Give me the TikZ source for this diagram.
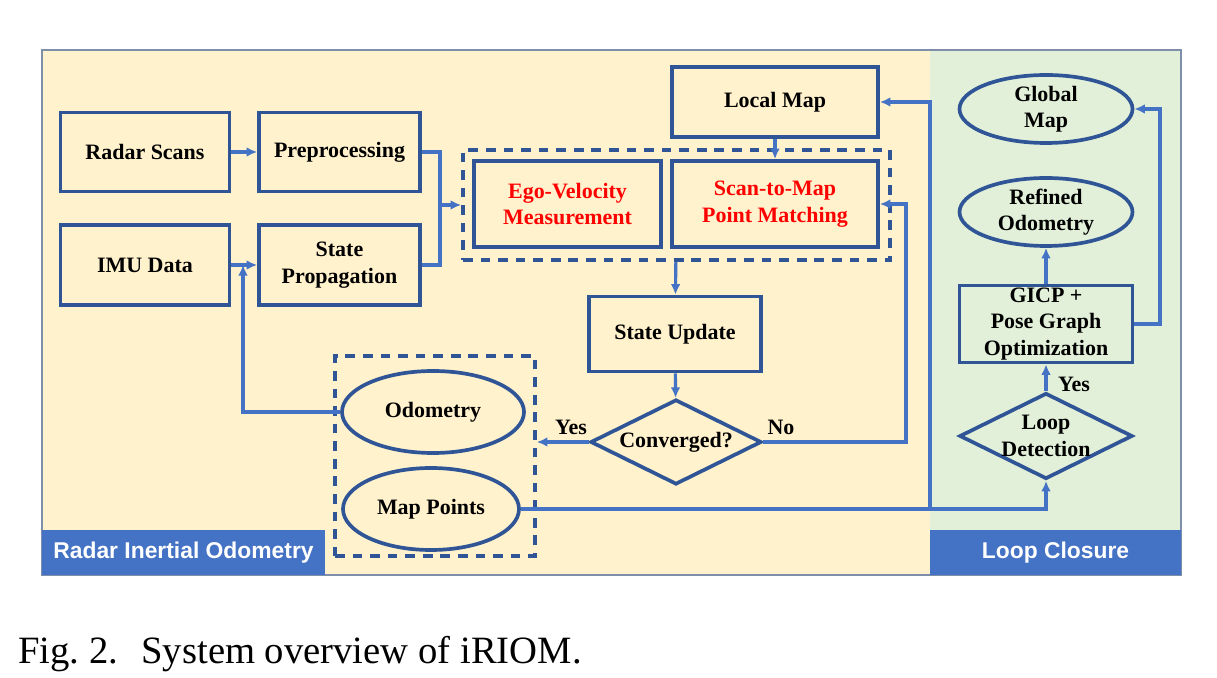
\documentclass[tikz,border=0pt]{standalone}
\usepackage{fontspec}
\setmainfont{Liberation Serif}
\setsansfont{Liberation Sans}
\usepackage{tikz}
\usetikzlibrary{arrows.meta,shapes.geometric,backgrounds}
\pgfdeclarelayer{bglayer}
\pgfdeclarelayer{edgelayer}
\pgfdeclarelayer{nodelayer}
\pgfsetlayers{bglayer,nodelayer,main,edgelayer}

\definecolor{panelcream}{HTML}{FFF2CC}
\definecolor{panelgreen}{HTML}{E2F0D9}
\definecolor{barblue}{HTML}{4472C4}
\definecolor{boxblue}{HTML}{2F5597}
\definecolor{edgeblue}{HTML}{4472C4}
\definecolor{framegray}{HTML}{7F8FA9}

\tikzset{
	block/.style={draw=boxblue, line width=2.1pt, align=center, inner sep=0pt, font=\fontsize{12.5}{15}\selectfont\bfseries},
	oval/.style={block, ellipse},
	decision/.style={block, diamond, aspect=2},
	group/.style={draw=boxblue, line width=2.1pt, dash pattern=on 5.5pt off 4.5pt},
	flow/.style={draw=edgeblue, line width=1.8pt, -{Latex[length=6pt,width=5.5pt]}},
	plain/.style={draw=edgeblue, line width=1.8pt},
	redtext/.style={text=red},
	bar/.style={fill=barblue, text=white, inner sep=0pt, font=\sffamily\bfseries\fontsize{13}{15}\selectfont},
	tag/.style={font=\fontsize{12.5}{15}\selectfont\bfseries},
}

\begin{document}
\begin{tikzpicture}
	\useasboundingbox (0, 0) rectangle (24.34, 13.54);
	\begin{pgfonlayer}{bglayer}
		\fill [panelcream] (0.84, 2.04) rectangle (18.6, 12.54);
		\fill [panelgreen] (18.6, 2.04) rectangle (23.62, 12.54);
		\draw [framegray, line width=0.6pt] (0.84, 2.04) rectangle (23.62, 12.54);
	\end{pgfonlayer}
	\begin{pgfonlayer}{nodelayer}
		\node [block, minimum width=3.38cm, minimum height=1.58cm] (0) at (2.9, 10.5) {Radar Scans};
		\node [block, minimum width=3.22cm, minimum height=1.58cm] (1) at (6.79, 10.5) {Preprocessing};
		\node [block, minimum width=3.38cm, minimum height=1.6cm] (2) at (2.9, 8.24) {IMU Data};
		\node [block, minimum width=3.22cm, minimum height=1.6cm] (3) at (6.79, 8.24) {State\\Propagation};
		\node [group, minimum width=8.54cm, minimum height=2.2cm] (4) at (13.53, 9.44) {};
		\node [block, redtext, minimum width=3.74cm, minimum height=1.72cm] (5) at (11.35, 9.46) {Ego-Velocity\\Measurement};
		\node [block, redtext, minimum width=4.12cm, minimum height=1.72cm] (6) at (15.5, 9.46) {Scan-to-Map\\Point Matching};
		\node [block, minimum width=4.12cm, minimum height=1.4cm] (7) at (15.5, 11.5) {Local Map};
		\node [block, minimum width=3.44cm, minimum height=1.5cm] (8) at (13.5, 6.86) {State Update};
		\node [decision, minimum width=3.42cm, minimum height=1.7cm] (9) at (13.52, 4.7) {Converged?};
		\node [group, minimum width=4cm, minimum height=4cm] (10) at (8.7, 4.42) {};
		\node [oval, minimum width=3.64cm, minimum height=1.64cm] (11) at (8.66, 5.3) {Odometry};
		\node [oval, minimum width=3.52cm, minimum height=1.64cm] (12) at (8.62, 3.36) {Map Points};
		\node [oval, minimum width=3.46cm, minimum height=1.36cm] (13) at (20.92, 11.36) {Global\\Map};
		\node [oval, minimum width=3.46cm, minimum height=1.36cm] (14) at (20.92, 9.3) {Refined\\Odometry};
		\node [block, minimum width=3.46cm, minimum height=1.54cm] (15) at (20.92, 7.06) {GICP +\\Pose Graph\\Optimization};
		\node [decision, minimum width=3.46cm, minimum height=1.72cm] (16) at (20.92, 4.82) {Loop\\Detection};
		\node [tag] (17) at (11.42, 5.0) {Yes};
		\node [tag] (18) at (15.62, 5.0) {No};
		\node [tag] (19) at (21.48, 5.86) {Yes};
		\node [] (20) at (8.8, 10.5) {};
		\node [] (21) at (8.8, 8.24) {};
		\node [] (22) at (8.8, 9.44) {};
		\node [] (23) at (18.12, 4.7) {};
		\node [] (24) at (18.12, 9.46) {};
		\node [] (25) at (4.86, 5.3) {};
		\node [] (26) at (4.86, 8.24) {};
		\node [] (27) at (18.6, 3.36) {};
		\node [] (28) at (20.92, 3.36) {};
		\node [] (29) at (18.6, 11.5) {};
		\node [] (30) at (23.2, 7.06) {};
		\node [] (31) at (23.2, 11.36) {};
		\node [bar, minimum width=5.66cm, minimum height=0.9cm] (32) at (3.67, 2.49) {Radar Inertial Odometry};
		\node [bar, minimum width=5.02cm, minimum height=0.9cm] (33) at (21.11, 2.49) {Loop Closure};
		\node [font=\fontsize{22}{26}\selectfont, anchor=base west, inner sep=0pt] (34) at (0.36, 0.28) {Fig.~2.\hspace{0.6em}System overview of iRIOM.};
	\end{pgfonlayer}
	\begin{pgfonlayer}{edgelayer}
		\draw [flow] (0) to (1);
		\draw [flow] (2) to (3);
		\draw [plain] (1) to (20.center) to (21.center) to (3);
		\draw [flow] (22.center) to (4);
		\draw [flow] (7) to (6);
		\draw [flow] (4) to (8);
		\draw [flow] (8) to (9);
		\draw [flow] (9.west) to (9.west -| 10.east);
		\draw [flow] (9) to (23.center) to (24.center) to (6);
		\draw [flow] (11) to (25.center) to (26.center);
		\draw [flow] (12) to (27.center) to (28.center) to (16);
		\draw [flow] (27.center) to (29.center) to (7);
		\draw [flow] (16) to (15);
		\draw [flow] (15) to (14);
		\draw [flow] (15) to (30.center) to (31.center) to (13);
	\end{pgfonlayer}
\end{tikzpicture}
\end{document}
